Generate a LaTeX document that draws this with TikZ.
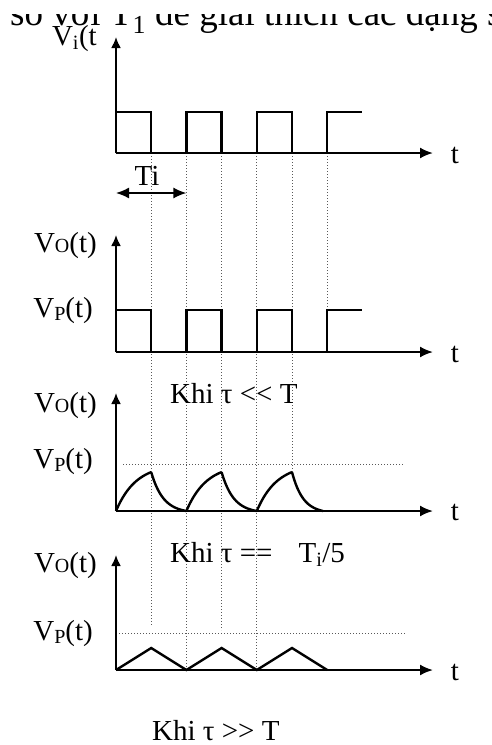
\documentclass[tikz,border=0pt]{standalone}
\usepackage{fontspec}
\setmainfont{Liberation Serif}
\usetikzlibrary{arrows.meta}
\newlength{\du}
\setlength{\du}{1pt}
\tikzset{
  lbl/.style={inner sep=0pt, font=\fontsize{29}{29}\selectfont},
  wave/.style={line width=2.4\du, line join=miter},
  axisline/.style={line width=2\du, -{Latex[length=13pt,width=11pt]}},
  upaxis/.style={line width=2\du, -{Latex[length=11pt,width=10pt]}},
  spanarrow/.style={line width=1.6\du, {Latex[length=13pt,width=11pt]}-{Latex[length=13pt,width=11pt]}},
  guide/.style={dialinegray, line width=0.8\du, dash pattern=on 1pt off 2pt},
}
\definecolor{dialinegray}{rgb}{0.35, 0.35, 0.35}
\newcommand{\smallcap}[1]{{\fontsize{20}{20}\selectfont #1}}
\begin{document}
\begin{tikzpicture}
\pgftransformxscale{1.000000}
\pgftransformyscale{-1.000000}
\useasboundingbox (0\du,0\du) rectangle (492\du,745\du);
\clip (0\du,0\du) rectangle (492\du,745\du);
\definecolor{dialinecolor}{rgb}{0.000000, 0.000000, 0.000000}
\pgfsetstrokecolor{dialinecolor}
% cut line of text above
\node[anchor=base west, inner sep=0pt, font=\fontsize{37}{37}\selectfont] (topline) at (10\du,25\du){so với T\textsubscript{1} để giải thích các dạng sóng};
\fill[white] (0\du,0\du) rectangle (492\du,14\du);
% guide lines
\draw[guide] (151.2\du,153\du)--(151.2\du,625\du);
\draw[guide] (186.4\du,153\du)--(186.4\du,670\du);
\draw[guide] (221.6\du,153\du)--(221.6\du,630\du);
\draw[guide] (256.8\du,153\du)--(256.8\du,670\du);
\draw[guide] (292.0\du,153\du)--(292.0\du,472\du);
\draw[guide] (327.2\du,153\du)--(327.2\du,310\du);
\draw[guide] (123\du,464\du)--(403\du,464\du);
\draw[guide] (116\du,633\du)--(406\du,633\du);
% input wave
\draw[upaxis] (116\du,153\du)--(116\du,37\du);
\draw[axisline] (116\du,153\du)--(433\du,153\du);
\draw[wave] (116\du,153\du)--(116\du,112\du)--(151.2\du,112\du)--(151.2\du,153\du)--(186.4\du,153\du)--(186.4\du,112\du)--(221.6\du,112\du)--(221.6\du,153\du)--(256.8\du,153\du)--(256.8\du,112\du)--(292.0\du,112\du)--(292.0\du,153\du)--(327.2\du,153\du)--(327.2\du,112\du)--(362.4\du,112\du);
\node[lbl, anchor=base east] (vi) at (97\du,45\du){V\textsubscript{i}(t};
\node[lbl, anchor=base] (t1) at (455\du,163\du){t};
\draw[spanarrow] (116\du,193\du)--(186.4\du,193\du);
\node[lbl, anchor=base] (ti) at (147\du,185\du){Ti};
% output, tau << T
\draw[upaxis] (116\du,352\du)--(116\du,235\du);
\draw[axisline] (116\du,352\du)--(433\du,352\du);
\draw[wave] (116\du,352\du)--(116\du,310\du)--(151.2\du,310\du)--(151.2\du,352\du)--(186.4\du,352\du)--(186.4\du,310\du)--(221.6\du,310\du)--(221.6\du,352\du)--(256.8\du,352\du)--(256.8\du,310\du)--(292.0\du,310\du)--(292.0\du,352\du)--(327.2\du,352\du)--(327.2\du,310\du)--(362.4\du,310\du);
\node[lbl, anchor=base east] (vo1) at (97\du,252\du){V\smallcap{O}(t)};
\node[lbl, anchor=base east] (vp1) at (93\du,317\du){V\raisebox{-3pt}{\smallcap{P}}(t)};
\node[lbl, anchor=base] (t2) at (455\du,362\du){t};
\node[lbl, anchor=base west] (khi1) at (170\du,403\du){Khi τ {<}{<} T};
% output, tau = Ti/5
\draw[upaxis] (116\du,511\du)--(116\du,393\du);
\draw[axisline] (116\du,511\du)--(433\du,511\du);
\draw[wave] plot[domain=0:35.2, samples=30] ({(116+\x)*\du}, {(511-47*(1-exp(-\x/20)))*\du});
\draw[wave] plot[domain=0:35.2, samples=30] ({(151.2+\x)*\du}, {(511-38.9*(exp(-\x/12)-0.0532)/0.9468)*\du});
\draw[wave] plot[domain=0:35.2, samples=30] ({(186.4+\x)*\du}, {(511-47*(1-exp(-\x/20)))*\du});
\draw[wave] plot[domain=0:35.2, samples=30] ({(221.6+\x)*\du}, {(511-38.9*(exp(-\x/12)-0.0532)/0.9468)*\du});
\draw[wave] plot[domain=0:35.2, samples=30] ({(256.8+\x)*\du}, {(511-47*(1-exp(-\x/20)))*\du});
\draw[wave] plot[domain=0:31, samples=30] ({(292.0+\x)*\du}, {(511-38.9*(exp(-\x/11)-0.0597)/0.9403)*\du});
\node[lbl, anchor=base east] (vo2) at (97\du,412\du){V\smallcap{O}(t)};
\node[lbl, anchor=base east] (vp2) at (93\du,468\du){V\raisebox{-3pt}{\smallcap{P}}(t)};
\node[lbl, anchor=base] (t3) at (455\du,520\du){t};
\node[lbl, anchor=base west] (khi2) at (170\du,562\du){Khi τ ==\hspace{26pt}T\textsubscript{i}/5};
% output, tau >> T
\draw[upaxis] (116\du,670\du)--(116\du,555\du);
\draw[axisline] (116\du,670\du)--(433\du,670\du);
\draw[wave] (116\du,670\du)--(151.2\du,648\du)--(186.4\du,670\du)--(221.6\du,648\du)--(256.8\du,670\du)--(292.0\du,648\du)--(327.2\du,670\du);
\node[lbl, anchor=base east] (vo3) at (97\du,572\du){V\smallcap{O}(t)};
\node[lbl, anchor=base east] (vp3) at (93\du,640\du){V\raisebox{-3pt}{\smallcap{P}}(t)};
\node[lbl, anchor=base] (t4) at (455\du,680\du){t};
\node[lbl, anchor=base west] (khi3) at (152\du,740\du){Khi τ {>}{>} T};
\end{tikzpicture}
\end{document}
